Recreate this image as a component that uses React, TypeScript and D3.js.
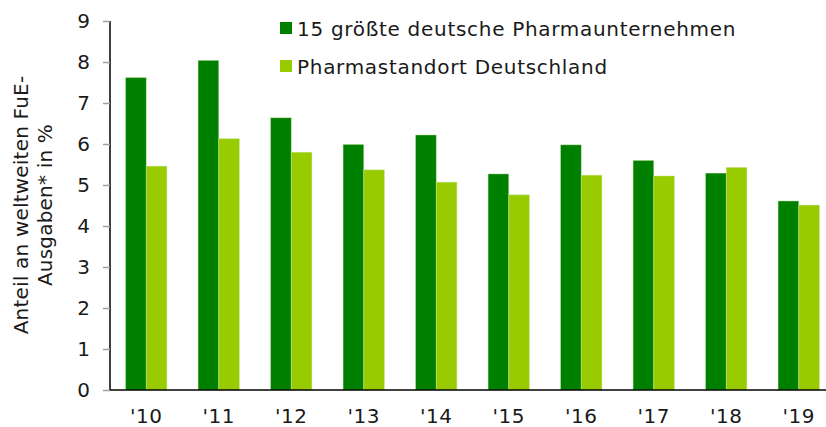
import React, { useRef, useEffect } from 'react';
import * as d3 from 'd3';

const years = ["'10", "'11", "'12", "'13", "'14", "'15", "'16", "'17", "'18", "'19"];
const pharmaTop15 = [7.62, 8.04, 6.64, 5.99, 6.22, 5.27, 5.98, 5.6, 5.29, 4.61];
const standortDE = [5.46, 6.13, 5.8, 5.37, 5.07, 4.76, 5.24, 5.22, 5.43, 4.51];
const yTicks = [0, 1, 2, 3, 4, 5, 6, 7, 8, 9];
const seriesNames = ['15 größte deutsche Pharmaunternehmen', 'Pharmastandort Deutschland'];
const seriesColors = ['#008000', '#99cc00'];

const App = () => {
  const ref = useRef(null);

  useEffect(() => {
    const svg = d3.select(ref.current);
    svg.selectAll('*').remove();

    const font = 'Verdana, "DejaVu Sans", sans-serif';
    const left = 110;
    const right = 835;
    const top = 21;
    const bottom = 390;

    const x = d3.scaleBand().domain(years).range([left, right]).paddingInner(0.43).paddingOuter(0.215);
    const x1 = d3.scaleBand().domain(['0', '1']).range([0, x.bandwidth()]);
    const y = d3.scaleLinear().domain([0, 9]).range([bottom, top]);

    const rows = years.map((yr, i) => ({ yr, vals: [pharmaTop15[i], standortDE[i]] }));

    const groups = svg
      .append('g')
      .selectAll('g')
      .data(rows)
      .enter()
      .append('g')
      .attr('transform', (d) => `translate(${x(d.yr)},0)`);

    groups
      .selectAll('rect')
      .data((d) => d.vals.map((v, k) => ({ v, k })))
      .enter()
      .append('rect')
      .attr('x', (d) => x1(String(d.k)))
      .attr('y', (d) => y(d.v))
      .attr('width', x1.bandwidth())
      .attr('height', (d) => bottom - y(d.v))
      .attr('fill', (d) => seriesColors[d.k])
      .attr('stroke', '#c8e6a0')
      .attr('stroke-opacity', 0.6)
      .attr('stroke-width', 0.7);

    // y axis
    const yAxis = svg.append('g').attr('transform', `translate(${left},0)`).call(
      d3.axisLeft(y).tickValues(yTicks).tickSize(7).tickPadding(13).tickFormat(d3.format('d'))
    );
    yAxis.select('.domain').attr('stroke', '#000').attr('stroke-width', 1.5).attr('d', `M0,${top}V${bottom}`);
    yAxis.selectAll('.tick line').attr('stroke', '#a0a0a0').attr('stroke-width', 1.5);
    yAxis.selectAll('.tick text').attr('font-family', font).attr('font-size', 20).attr('fill', '#1a1a1a');

    // x axis
    const xAxis = svg.append('g').attr('transform', `translate(0,${bottom})`).call(
      d3.axisBottom(x).tickSize(0).tickPadding(19)
    );
    xAxis.select('.domain').attr('stroke', '#000').attr('stroke-width', 1.5).attr('d', `M${left},0H${right}`);
    xAxis
      .selectAll('.tick text')
      .attr('font-family', font)
      .attr('font-size', 20)
      .attr('letter-spacing', 0.6)
      .attr('fill', '#1a1a1a');

    // y axis title
    const title = svg
      .append('text')
      .attr('transform', 'translate(21,205) rotate(-90)')
      .attr('text-anchor', 'middle')
      .attr('font-family', font)
      .attr('font-size', 20)
      .attr('letter-spacing', 0.2)
      .attr('fill', '#1a1a1a');
    title.append('tspan').attr('x', 0).attr('dy', '0.35em').text('Anteil an weltweiten FuE-');
    title.append('tspan').attr('x', 0).attr('dy', 24).text('Ausgaben* in %');

    // legend
    const legend = svg
      .append('g')
      .selectAll('g')
      .data(seriesNames)
      .enter()
      .append('g')
      .attr('transform', (d, i) => `translate(280,${22 + i * 38})`);
    legend
      .append('rect')
      .attr('width', 12)
      .attr('height', 12)
      .attr('fill', (d, i) => seriesColors[i]);
    legend
      .append('text')
      .attr('x', 17)
      .attr('y', 13.5)
      .attr('font-family', font)
      .attr('font-size', 20)
      .attr('letter-spacing', 0.7)
      .attr('fill', '#1a1a1a')
      .text((d) => d);
  }, []);

  return (
    <svg
      ref={ref}
      width={826}
      height={427}
      style={{ position: 'absolute', left: 0, top: 0, background: '#fff' }}
    />
  );
};

export default App;
